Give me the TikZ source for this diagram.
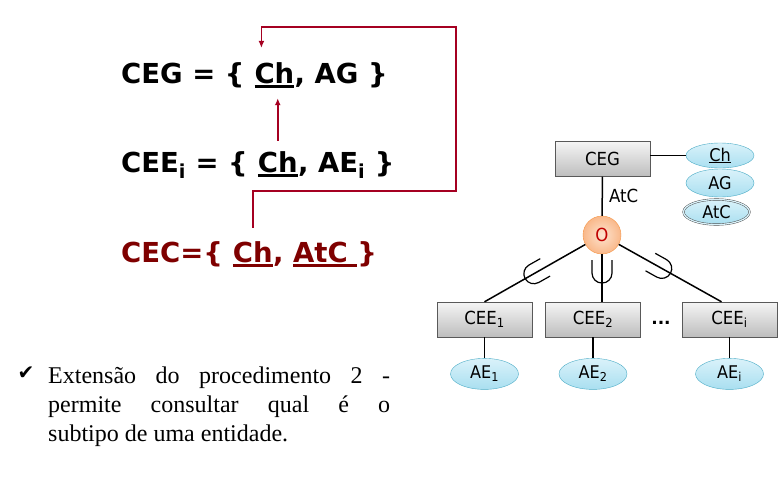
\documentclass[tikz,border=0pt]{standalone}
\usepackage{fontspec}
\setmainfont{Liberation Serif}
\newfontfamily\diagfont{DejaVu Sans}
\newfontfamily\schemafont[FakeStretch=0.92]{DejaVu Sans}
\usetikzlibrary{arrows.meta,positioning,shapes.geometric,calc}
\definecolor{loopred}{HTML}{A50021}
\definecolor{cecred}{HTML}{7F0000}
\definecolor{catred}{HTML}{C00000}
\definecolor{boxedge}{HTML}{595959}
\definecolor{boxtop}{HTML}{F5F5F5}
\definecolor{boxbot}{HTML}{BDBDBD}
\definecolor{attredge}{HTML}{4BACC6}
\definecolor{attrtop}{HTML}{DAF2FA}
\definecolor{attrbot}{HTML}{A9DFF0}
\definecolor{catedge}{HTML}{F79646}
\definecolor{catin}{HTML}{FDE3CF}
\definecolor{catout}{HTML}{F9B88A}

\newcommand{\keyul}[1]{\setbox0=\hbox{#1}\rlap{\rule[-5pt]{\wd0}{3pt}}\box0}
\newcommand{\eqsp}{\kern0.35em}

\begin{document}
\begin{tikzpicture}[
    x=1pt, y=-1pt,
    eq/.style={inner sep=0pt, anchor=base west, font=\diagfont\bfseries\fontsize{27.5}{27.5}\selectfont},
    entity/.style={rectangle, draw=boxedge, top color=boxtop, bottom color=boxbot, minimum width=95pt, minimum height=35pt, inner sep=0pt, font=\schemafont\fontsize{18}{18}\selectfont},
    attr/.style={ellipse, draw=attredge, top color=attrtop, bottom color=attrbot, minimum width=68pt, minimum height=27pt, inner sep=0pt, font=\schemafont\fontsize{17.5}{17.5}\selectfont},
    cat/.style={circle, draw=catedge, inner color=catin, outer color=catout, minimum size=38pt, inner sep=0pt, font=\schemafont\fontsize{18}{18}\selectfont\color{catred}},
    link/.style={line width=1.5pt},
    redarrow/.style={draw=loopred, line width=1.6pt, -{Latex[length=7pt,width=6pt]}},
    cup/.pic={\draw[line width=1.2pt] (-10,-13) -- (-10,0) arc[start angle=180, end angle=0, radius=10] -- (10,-13);}
]
\useasboundingbox[fill=white] (0,0) rectangle (782,483);

% Equations
\node[eq] (cegA) at (121,83) {CEG = \{\eqsp};
\node[eq] (cegCh) at (cegA.base east) {\keyul{Ch}};
\node[eq] (cegB) at (cegCh.base east) {, AG \}};

\node[eq] (ceeA) at (121,172) {CEE\textsubscript{i} = \{\eqsp};
\node[eq] (ceeCh) at (ceeA.base east) {\keyul{Ch}};
\node[eq] (ceeB) at (ceeCh.base east) {, AE\textsubscript{i} \}};

\node[eq, text=cecred] (cecA) at (121,262) {CEC=\{\eqsp};
\node[eq, text=cecred] (cecCh) at (cecA.base east) {\keyul{Ch}};
\node[eq, text=cecred] (cecB) at (cecCh.base east) {, \keyul{AtC\ }\}};

\coordinate (loopBR) at (456,191);
\coordinate (loopTR) at (456,27);
\draw[redarrow, shorten <=10pt, shorten >=10pt] (ceeCh.north) -- (ceeCh.north |- cegCh.south);
\draw[redarrow] ([yshift=13pt]cecCh.north) |- (loopBR) -- (loopTR) -| ([xshift=-13pt, yshift=14pt]cegCh.north);

% Schema
\node[entity] (ceg) at (602.5,159) {CEG};
\node[attr, minimum height=25pt] (ch) at (720,155.5) {\underline{Ch}};
\node[attr, minimum height=28pt] (ag) at (720,183) {AG};
\node[attr, minimum width=66pt, minimum height=25pt, draw=black!75, double=attrtop, double distance=1.3pt] (atc) at (716.5,212) {AtC};
\node[cat] (o) at (602,235) {O};

\draw[link] (ch.west -| ceg.east) -- (ch.west);
\draw[link] (ceg) -- node[right, inner sep=6pt, font=\schemafont\fontsize{18}{18}\selectfont] (atclbl) {AtC} (o);

\node[entity] (cee1) at (484.5,319.5) {CEE\textsubscript{1}};
\node[entity] (cee2) at (593,319.5) {CEE\textsubscript{2}};
\node[entity] (ceei) at (729.5,319.5) {CEE\textsubscript{i}};
\node[font=\diagfont\bfseries\fontsize{17}{17}\selectfont] (dots) at (661,323) {...};

\node[attr, minimum height=31pt, below=21pt of cee1] (ae1) {AE\textsubscript{1}};
\node[attr, minimum height=31pt, below=21pt of cee2] (ae2) {AE\textsubscript{2}};
\node[attr, minimum height=31pt, below=21pt of ceei] (aei) {AE\textsubscript{i}};

\draw[link] (o) -- (cee1.north);
\draw[link] (o) -- (o |- cee2.north);
\draw[link] (o) -- ([xshift=-8pt]ceei.north);
\draw[link] (cee1) -- (ae1);
\draw[link] (cee2) -- (ae2);
\draw[link] (ceei) -- (aei);

\pic[rotate=-60.6] at ($(o)!0.58!(cee1.north)$) {cup};
\pic at ($(o)!0.57!(o |- cee2.north)$) {cup};
\pic[rotate=60.8] at ($(o)!0.5!([xshift=-8pt]ceei.north)$) {cup};

% Note
\node[font=\diagfont\fontsize{20}{20}\selectfont] (tick) at (26,373) {✔};
\node[text width=342pt, align=justify, anchor=north west, inner sep=0pt, font=\fontsize{24}{29}\selectfont] (note) at (48,366.5)
  {Extensão do procedimento 2 -\linebreak permite consultar qual é o\linebreak subtipo de uma entidade.};

\end{tikzpicture}
\end{document}
